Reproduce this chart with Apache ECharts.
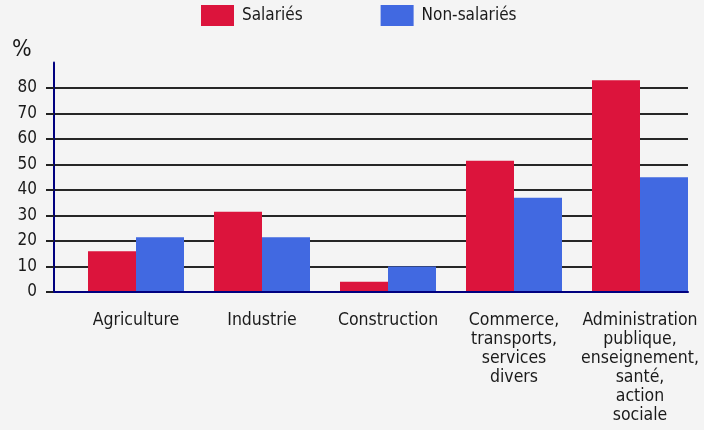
<!DOCTYPE html>
<html>
<head>
<meta charset="utf-8">
<script src="https://cdn.jsdelivr.net/npm/echarts@6/dist/echarts.min.js"></script>
<style>
  html, body { margin: 0; padding: 0; background: #f4f4f4; }
  #chart { width: 704px; height: 430px; }
</style>
</head>
<body>
<div id="chart"></div>
<script>
// données (%)
const categories = [
  'Agriculture',
  'Industrie',
  'Construction',
  'Commerce,\ntransports,\nservices\ndivers',
  'Administration\npublique,\nenseignement,\nsanté,\naction\nsociale'
]
const salaries = [16, 31.5, 4, 51.5, 83]
const nonSalaries = [21.5, 21.5, 10, 37, 45]
const yTicks = [0, 10, 20, 30, 40, 50, 60, 70, 80]

const font = '"DejaVu Sans Condensed", "DejaVu Sans", sans-serif'
const navy = '#00007f'
const ink = '#1a1a1a'

const chart = echarts.init(document.getElementById('chart'))

const options = {
  backgroundColor: '#f4f4f4',
  animation: false,
  textStyle: { fontFamily: font, color: ink },
  legend: {
    left: 196,
    top: 0,
    itemWidth: 33,
    itemHeight: 21,
    itemGap: 78,
    icon: 'rect',
    textStyle: { fontFamily: font, fontSize: 17, color: ink, padding: [0, 0, 0, 3] },
    data: ['Salariés', 'Non-salariés']
  },
  graphic: [
    { type: 'text', left: 12, top: 39, style: { text: '%', fontFamily: font, fontSize: 23, fill: ink } }
  ],
  grid: [
    // grille des axes / lignes horizontales
    { left: 54, right: 16, top: 62.5, bottom: 138 },
    // grille des barres (décalée comme dans l'original)
    { left: 73, right: 1, top: 62.5, bottom: 138 }
  ],
  xAxis: [
    {
      gridIndex: 0,
      type: 'category',
      data: [''],
      axisLine: { lineStyle: { color: navy, width: 2 } },
      axisTick: { show: false },
      axisLabel: { show: false },
      z: 3
    },
    {
      gridIndex: 1,
      type: 'category',
      data: categories,
      axisLine: { show: false },
      axisTick: { show: false },
      axisLabel: {
        interval: 0,
        margin: 19,
        fontFamily: font,
        fontSize: 17.5,
        lineHeight: 19,
        color: ink,
        align: 'center'
      }
    }
  ],
  yAxis: [
    {
      gridIndex: 0,
      type: 'value',
      min: 0,
      max: 90,
      interval: 10,
      axisLine: { show: true, lineStyle: { color: navy, width: 2 } },
      axisTick: { show: true, length: 8, customValues: yTicks, lineStyle: { color: '#222', width: 2 } },
      axisLabel: { margin: 17, customValues: yTicks, fontFamily: font, fontSize: 17, color: ink },
      splitLine: { show: true, showMinLine: false, lineStyle: { color: '#262626', width: 2 } }
    },
    {
      gridIndex: 1,
      type: 'value',
      min: 0,
      max: 90,
      show: false,
      splitLine: { show: false }
    }
  ],
  series: [
    {
      name: 'Salariés',
      type: 'bar',
      xAxisIndex: 1,
      yAxisIndex: 1,
      data: salaries,
      barWidth: 48,
      barGap: '0%',
      itemStyle: { color: '#dc143c' }
    },
    {
      name: 'Non-salariés',
      type: 'bar',
      xAxisIndex: 1,
      yAxisIndex: 1,
      data: nonSalaries,
      barWidth: 48,
      barGap: '0%',
      itemStyle: { color: '#4169e1' }
    }
  ]
}

chart.setOption(options, true)
</script>
</body>
</html>
